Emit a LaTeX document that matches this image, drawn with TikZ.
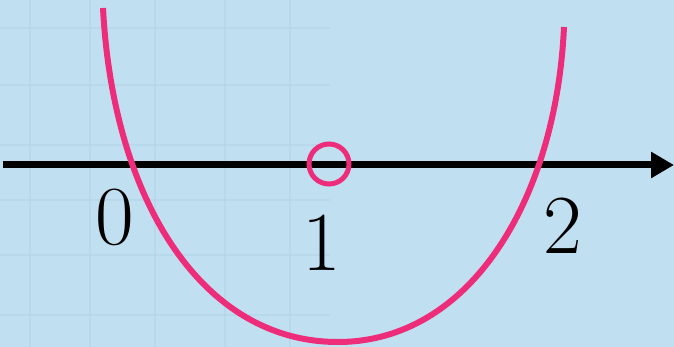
\documentclass[tikz,border=0pt]{standalone}
\usetikzlibrary{arrows.meta}
\definecolor{bg}{HTML}{C0E0F2}
\definecolor{gridc}{HTML}{B2D4E8}
\definecolor{curvec}{HTML}{EE2D7A}
\tikzset{
  lbl/.style={inner sep=0pt, font=\fontsize{84}{84}\selectfont},
  gridline/.style={draw=gridc, line width=2pt, opacity=0.5},
}
\begin{document}
\begin{tikzpicture}[x=1pt,y=-1pt]
\fill[bg] (0,0) rectangle (674,347);
\useasboundingbox (0,0) rectangle (674,347);
% faint grid
\foreach \gx in {30,90,155,225,290} \draw[gridline] (\gx,0) -- (\gx,347);
\foreach \gy in {28,85,145,200,255,315} \draw[gridline] (0,\gy) -- (330,\gy);
% axis
\coordinate (a0) at (3,165);
\coordinate (a1) at (674,165);
\draw[line width=7pt, -{Triangle[length=23pt,width=25pt]}] (a0) -- (a1);
% curve
\coordinate (p0) at (103,8);
\coordinate (pm) at (338,342);
\coordinate (p1) at (564,27);
\draw[curvec, line width=6pt] (p0) .. controls (113,200) and (202,342) .. (pm)
  .. controls (470,342) and (556,200) .. (p1);
% open circle
\node[circle, draw=curvec, line width=5pt, minimum size=40pt, inner sep=0pt] (c1) at (329,164) {};
% labels
\node[lbl] (l0) at (115,217) {0};
\node[lbl] (l1) at (322,243) {1};
\node[lbl] (l2) at (563,226) {2};
\end{tikzpicture}
\end{document}
